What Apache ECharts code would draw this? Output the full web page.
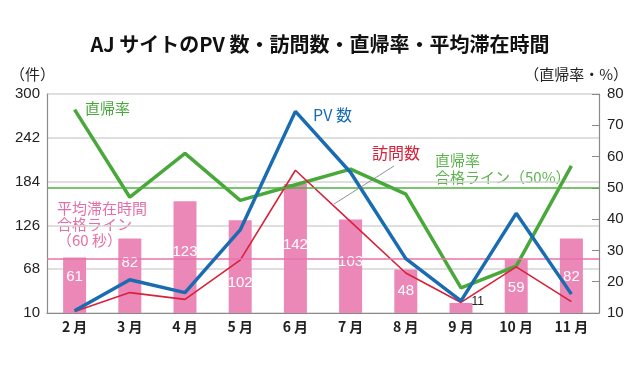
<!DOCTYPE html>
<html>
<head>
<meta charset="utf-8">
<script src="https://cdn.jsdelivr.net/npm/echarts@6/dist/echarts.min.js"></script>
<style>
  html, body { margin: 0; padding: 0; background: #fff; }
  #main { width: 640px; height: 376px; }
</style>
</head>
<body>
<div id="main"></div>
<script>
  // 月
  var months = ['2 月', '3 月', '4 月', '5 月', '6 月', '7 月', '8 月', '9 月', '10 月', '11 月']
  // PV 数・訪問数 (件)
  var pvCounts = [13, 54, 37, 120, 277, 196, 82, 26, 142, 35]
  var visitCounts = [12, 37, 28, 80, 199, 131, 63, 24, 71, 25]
  // 直帰率 (%)
  var bounceRate = [75, 47, 61, 46, 51, 56, 48, 18, 25, 57]
  // 平均滞在時間 (秒)
  var avgStaySec = [61, 82, 123, 102, 142, 103, 48, 11, 59, 82]
  // 目盛り
  var leftTicks = [10, 68, 126, 184, 242, 300]
  var bounceTarget = 50
  var stayTarget = 60

  // bar label nudges (layout only)
  var barLabelShift = [7, 12, 38, 50, 48, 30, 9, null, 16, 26]

  var numFont = '"Liberation Sans", Arial, "Noto Sans CJK JP", sans-serif'
  var jpFont = '"Noto Sans CJK JP", "Liberation Sans", sans-serif'
  var axisGray = '#8a8a8a'

  var barData = avgStaySec.map(function (v, i) {
    if (barLabelShift[i] === null) {
      return {
        value: v,
        label: { position: 'right', offset: [-3, -6], color: '#222', fontSize: 12, distance: 2 }
      }
    }
    return { value: v, label: { offset: [0, barLabelShift[i]] } }
  })

  var chart = echarts.init(document.getElementById('main'))

  var option = {
    backgroundColor: '#fff',
    animation: false,
    title: {
      text: 'AJ サイトのPV 数・訪問数・直帰率・平均滞在時間',
      left: 'center',
      top: 29,
      textStyle: { fontFamily: jpFont, fontSize: 20, fontWeight: 'bold', color: '#111' }
    },
    grid: { left: 47, right: 41, top: 94, bottom: 63 },
    xAxis: [{
      type: 'category',
      data: months,
      axisLine: { lineStyle: { color: axisGray, width: 1.2 } },
      axisTick: { inside: true, length: 5, lineStyle: { color: axisGray } },
      axisLabel: { color: '#222', fontSize: 14, fontWeight: 'bold', fontFamily: jpFont, margin: 7 }
    }],
    yAxis: [{
      type: 'value',
      min: 10,
      max: 300,
      position: 'left',
      axisLine: { show: true, lineStyle: { color: axisGray, width: 1.2 } },
      axisTick: { show: false, customValues: leftTicks },
      axisLabel: { customValues: leftTicks, color: '#222', fontSize: 15, fontFamily: numFont, margin: 7 },
      splitLine: { show: false }
    }, {
      type: 'value',
      min: 10,
      max: 80,
      interval: 10,
      position: 'right',
      axisLine: { show: true, lineStyle: { color: axisGray, width: 1.2 } },
      axisTick: { show: true, inside: true, length: 7, lineStyle: { color: axisGray } },
      axisLabel: { color: '#222', fontSize: 15, fontFamily: numFont, margin: 8 },
      splitLine: { show: false }
    }, {
      // 平均滞在時間の軸 (非表示)
      type: 'value',
      min: 0,
      max: 241,
      show: false
    }, {
      // 横グリッド線用
      type: 'value',
      min: 0,
      max: 5,
      interval: 1,
      position: 'left',
      axisLine: { show: false },
      axisTick: { show: false },
      axisLabel: { show: false },
      splitLine: { show: true, lineStyle: { color: '#d4d4d4', width: 1.5 } }
    }],
    series: [{
      name: '平均滞在時間',
      type: 'bar',
      yAxisIndex: 2,
      data: barData,
      barWidth: 23,
      itemStyle: { color: '#eb88b7' },
      label: {
        show: true,
        position: 'insideTop',
        color: '#fff',
        fontSize: 15,
        fontFamily: '"Liberation Sans Narrow", "Liberation Sans", sans-serif'
      },
      markLine: {
        silent: true,
        symbol: 'none',
        label: { show: false },
        lineStyle: { color: '#e873ab', width: 1.5, type: 'solid' },
        data: [{ yAxis: stayTarget }]
      },
      z: 1
    }, {
      name: '直帰率',
      type: 'line',
      yAxisIndex: 1,
      data: bounceRate,
      symbol: 'none',
      lineStyle: { color: '#48a83a', width: 3.5 },
      markLine: {
        silent: true,
        symbol: 'none',
        label: { show: false },
        lineStyle: { color: '#4fb042', width: 1.5, type: 'solid' },
        data: [{ yAxis: bounceTarget }]
      },
      z: 3
    }, {
      name: '訪問数',
      type: 'line',
      yAxisIndex: 0,
      data: visitCounts,
      symbol: 'none',
      lineStyle: { color: '#d8213b', width: 1.6 },
      z: 4
    }, {
      name: 'PV 数',
      type: 'line',
      yAxisIndex: 0,
      data: pvCounts,
      symbol: 'none',
      lineStyle: { color: '#1a6cb2', width: 3.5 },
      z: 5
    }],
    graphic: [
      { type: 'text', left: 10, top: 67, style: { text: '（件）', font: '15px ' + jpFont, fill: '#222' } },
      { type: 'text', right: 12, top: 67, style: { text: '（直帰率・%）', font: '15px ' + jpFont, fill: '#222' } },
      { type: 'text', left: 85, top: 101, style: { text: '直帰率', font: '15px ' + jpFont, fill: '#48a83a' } },
      { type: 'text', left: 313, top: 107, style: { text: 'PV 数', font: '16px ' + jpFont, fill: '#1a6cb2' } },
      { type: 'text', left: 372, top: 145, style: { text: '訪問数', font: '16px ' + jpFont, fill: '#d8213b' } },
      {
        type: 'text', left: 435, top: 152,
        style: { text: '直帰率\n合格ライン（50%）', font: '15px ' + jpFont, lineHeight: 17, fill: '#5db44d' }
      },
      {
        type: 'text', left: 57, top: 200,
        style: { text: '平均滞在時間\n合格ライン\n（60 秒）', font: '15px ' + jpFont, lineHeight: 16, fill: '#e46fa8' }
      },
      {
        type: 'line', z: 10,
        shape: { x1: 394, y1: 166, x2: 334, y2: 204 },
        style: { stroke: '#777', lineWidth: 0.8 }
      }
    ]
  }

  chart.setOption(option)
</script>
</body>
</html>
